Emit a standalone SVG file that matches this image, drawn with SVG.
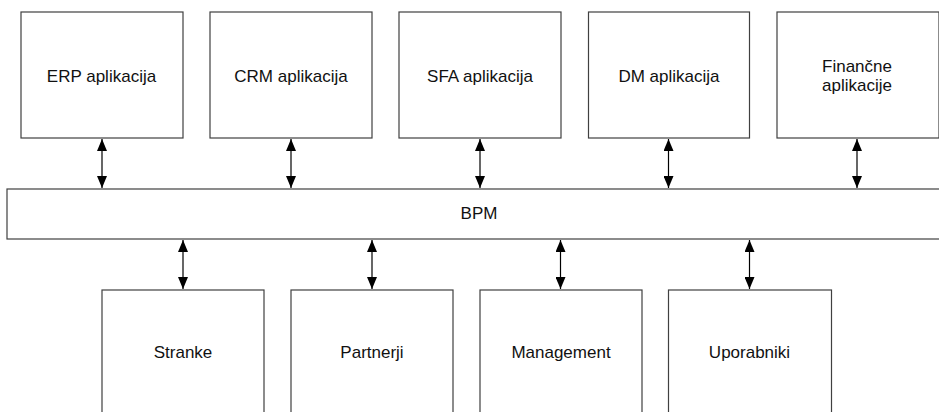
<svg xmlns="http://www.w3.org/2000/svg" width="939" height="412" viewBox="0 0 939 412">
<style>
.box{fill:#fff;stroke:#404040;stroke-width:1.2}
.lbl{font-family:"Liberation Sans",Arial,sans-serif;font-size:17px;fill:#111;text-anchor:middle}
.con{stroke:#000;stroke-width:1.2;fill:none;marker-start:url(#ah);marker-end:url(#ah)}
</style>
<defs>
<marker id="ah" viewBox="0 0 12 10" refX="12" refY="5" markerWidth="12" markerHeight="10" markerUnits="userSpaceOnUse" orient="auto-start-reverse">
<path d="M0,0 L12,5 L0,10 Z" fill="#000"/>
</marker>
</defs>
<rect width="939" height="412" fill="#fff"/>
<g id="erp"><rect class="box" x="21" y="12" width="162" height="126"/><text class="lbl" x="101.5" y="82">ERP aplikacija</text></g>
<g id="crm"><rect class="box" x="210" y="12" width="162" height="126"/><text class="lbl" x="291" y="82">CRM aplikacija</text></g>
<g id="sfa"><rect class="box" x="399" y="12" width="162" height="126"/><text class="lbl" x="480" y="82">SFA aplikacija</text></g>
<g id="dm"><rect class="box" x="588.5" y="12" width="161" height="126"/><text class="lbl" x="669" y="82">DM aplikacija</text></g>
<g id="fin"><rect class="box" x="777" y="12" width="162" height="126"/><text class="lbl" x="857" y="72">Finančne</text><text class="lbl" x="857" y="90.5">aplikacije</text></g>
<g id="bpm"><rect class="box" x="7" y="189" width="940" height="50"/><text class="lbl" x="479" y="219">BPM</text></g>
<g id="stranke"><rect class="box" x="102" y="290" width="162" height="130"/><text class="lbl" x="183" y="358">Stranke</text></g>
<g id="partnerji"><rect class="box" x="291" y="290" width="162" height="130"/><text class="lbl" x="372" y="358">Partnerji</text></g>
<g id="management"><rect class="box" x="480" y="290" width="162" height="130"/><text class="lbl" x="561" y="358">Management</text></g>
<g id="uporabniki"><rect class="box" x="668.5" y="290" width="163" height="130"/><text class="lbl" x="749.5" y="358">Uporabniki</text></g>
<g id="connectors">
<line class="con" x1="102" y1="139" x2="102" y2="188"/>
<line class="con" x1="291" y1="139" x2="291" y2="188"/>
<line class="con" x1="480" y1="139" x2="480" y2="188"/>
<line class="con" x1="668.5" y1="139" x2="668.5" y2="188"/>
<line class="con" x1="857" y1="139" x2="857" y2="188"/>
<line class="con" x1="183" y1="240" x2="183" y2="289"/>
<line class="con" x1="372" y1="240" x2="372" y2="289"/>
<line class="con" x1="560.5" y1="240" x2="560.5" y2="289"/>
<line class="con" x1="749.5" y1="240" x2="749.5" y2="289"/>
</g>
</svg>
